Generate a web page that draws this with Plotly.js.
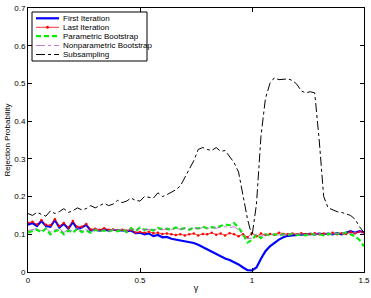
<!DOCTYPE html>
<html><head><meta charset="utf-8">
<script src="https://cdn.plot.ly/plotly-3.0.1.min.js"></script>
<style>html,body{margin:0;padding:0;background:#fff}#c{width:371px;height:298px}</style>
</head><body><div id="c"></div>
<script>
const gamma = [0,0.02,0.04,0.06,0.08,0.10,0.12,0.14,0.16,0.18,0.20,0.22,0.24,0.26,0.28,0.30,0.32,0.34,0.36,0.38,0.40,0.42,0.44,0.46,0.48,0.50,0.52,0.54,0.56,0.58,0.60,0.62,0.64,0.66,0.68,0.70,0.72,0.74,0.76,0.78,0.80,0.82,0.84,0.86,0.88,0.90,0.92,0.94,0.96,0.98,1.00,1.02,1.04,1.06,1.08,1.10,1.12,1.14,1.16,1.18,1.20,1.22,1.24,1.26,1.28,1.30,1.32,1.34,1.36,1.38,1.40,1.42,1.44,1.46,1.48,1.50];
const firstIteration = [0.125,0.13,0.122,0.135,0.122,0.12,0.138,0.118,0.128,0.115,0.132,0.115,0.118,0.125,0.11,0.112,0.11,0.113,0.11,0.112,0.11,0.111,0.108,0.11,0.103,0.104,0.1,0.102,0.095,0.098,0.092,0.093,0.088,0.086,0.085,0.082,0.08,0.077,0.072,0.066,0.06,0.054,0.046,0.04,0.036,0.032,0.027,0.02,0.012,0.005,0.004,0.012,0.035,0.055,0.068,0.078,0.086,0.092,0.096,0.097,0.098,0.1,0.099,0.101,0.1,0.102,0.1,0.102,0.1,0.103,0.1,0.104,0.108,0.104,0.108,0.105];
const lastIteration = [0.13,0.133,0.126,0.138,0.125,0.124,0.14,0.122,0.13,0.118,0.135,0.12,0.12,0.127,0.113,0.115,0.112,0.116,0.112,0.113,0.11,0.112,0.11,0.112,0.105,0.106,0.104,0.107,0.103,0.104,0.101,0.102,0.1,0.098,0.1,0.097,0.1,0.102,0.097,0.101,0.1,0.104,0.099,0.102,0.097,0.103,0.1,0.095,0.1,0.092,0.103,0.095,0.102,0.098,0.101,0.099,0.104,0.101,0.1,0.102,0.1,0.103,0.1,0.101,0.103,0.1,0.102,0.1,0.104,0.1,0.103,0.101,0.106,0.103,0.107,0.105];
const parametricBootstrap = [0.105,0.108,0.112,0.105,0.115,0.1,0.108,0.112,0.1,0.11,0.104,0.115,0.106,0.11,0.104,0.112,0.108,0.11,0.107,0.112,0.108,0.114,0.106,0.116,0.108,0.118,0.112,0.114,0.11,0.117,0.113,0.115,0.112,0.118,0.114,0.116,0.112,0.118,0.115,0.12,0.116,0.119,0.117,0.122,0.126,0.124,0.13,0.118,0.1,0.078,0.085,0.1,0.09,0.1,0.097,0.1,0.097,0.1,0.098,0.101,0.098,0.1,0.097,0.102,0.099,0.1,0.097,0.101,0.1,0.102,0.1,0.105,0.1,0.095,0.085,0.068];
const nonparametricBootstrap = [0.11,0.112,0.115,0.11,0.118,0.106,0.112,0.115,0.105,0.113,0.108,0.117,0.11,0.112,0.107,0.113,0.11,0.112,0.109,0.113,0.11,0.113,0.108,0.114,0.11,0.115,0.112,0.113,0.111,0.115,0.112,0.114,0.112,0.116,0.113,0.115,0.113,0.117,0.115,0.118,0.116,0.118,0.116,0.119,0.12,0.118,0.12,0.112,0.1,0.088,0.09,0.1,0.095,0.1,0.098,0.1,0.098,0.1,0.099,0.101,0.1,0.101,0.099,0.102,0.1,0.101,0.099,0.102,0.1,0.102,0.101,0.105,0.102,0.104,0.106,0.1];
const subsampling = [0.155,0.15,0.158,0.152,0.148,0.162,0.155,0.16,0.168,0.158,0.162,0.17,0.165,0.168,0.176,0.17,0.175,0.182,0.176,0.18,0.19,0.184,0.188,0.196,0.19,0.188,0.2,0.198,0.196,0.21,0.2,0.205,0.212,0.218,0.228,0.25,0.27,0.295,0.325,0.33,0.325,0.322,0.33,0.32,0.322,0.305,0.29,0.265,0.2,0.14,0.095,0.18,0.36,0.46,0.5,0.515,0.51,0.512,0.512,0.508,0.498,0.48,0.475,0.478,0.475,0.35,0.2,0.17,0.165,0.16,0.158,0.155,0.15,0.14,0.12,0.105];
const seriesNames = ["First Iteration","Last Iteration","Parametric Bootstrap","Nonparametric Bootstrap","Subsampling"];
const xTicks = [0,0.5,1,1.5];
const xTickText = ["0","0.5","1","1.5"];
const yTicks = [0,0.1,0.2,0.3,0.4,0.5,0.6,0.7];
const yTickText = ["0","0.1","0.2","0.3","0.4","0.5","0.6","0.7"];

const styles = [
  {line:{color:'#0000ff',width:2.2}},
  {line:{color:'#ff0000',width:0.8},marker:{color:'#ff0000',size:2.5}},
  {line:{color:'#00ee00',width:2.2,dash:'5px,3px'}},
  {line:{color:'#bb55cc',width:0.8,dash:'dashdot'}},
  {line:{color:'#000000',width:1,dash:'dashdot'}}
];
const ys = [firstIteration,lastIteration,parametricBootstrap,nonparametricBootstrap,subsampling];
const traces = ys.map((y,i)=>Object.assign({x:gamma,y:y,name:seriesNames[i],mode:styles[i].marker?'lines+markers':'lines',showlegend:false},styles[i]));

// manual legend (pixel geometry converted to paper coords)
const L=28,T=8,W=336,H=264;
const px=v=>(v-L)/W, py=v=>1-(v-T)/H;
const shapes=[{type:'rect',xref:'paper',yref:'paper',x0:px(32),x1:px(147),y0:py(12),y1:py(61),line:{color:'#000',width:1},fillcolor:'#fff',layer:'above'}];
const annotations=[];
const rowY=[18.3,27.3,36.2,45.5,54.5];
seriesNames.forEach((n,i)=>{
  const st=styles[i];
  shapes.push({type:'line',xref:'paper',yref:'paper',x0:px(36),x1:px(59),y0:py(rowY[i]),y1:py(rowY[i]),line:Object.assign({},st.line),layer:'above'});
  if(st.marker){shapes.push({type:'circle',xref:'paper',yref:'paper',x0:px(46.3),x1:px(48.7),y0:py(rowY[i]-1.2),y1:py(rowY[i]+1.2),line:{color:'#ff0000',width:0.5},fillcolor:'#ff0000',layer:'above'});}
  annotations.push({xref:'paper',yref:'paper',x:px(61),y:py(rowY[i]),xanchor:'left',yanchor:'middle',text:n,showarrow:false,font:{size:8,color:'#000'}});
});

const axisCommon = {showline:true,linecolor:'#000',linewidth:1,mirror:'ticks',ticks:'inside',ticklen:4,tickcolor:'#000',showgrid:false,zeroline:false,tickfont:{family:'Liberation Sans, Arial, sans-serif',size:8,color:'#000'}};
const layout = {
  width:371,height:298,
  margin:{l:L,r:7,t:T,b:26},
  paper_bgcolor:'#fff',plot_bgcolor:'#fff',
  font:{family:'Liberation Sans, Arial, sans-serif',size:8,color:'#000'},
  xaxis:Object.assign({},axisCommon,{range:[0,1.5],tickvals:xTicks,ticktext:xTickText,title:{text:'γ',font:{size:9},standoff:1}}),
  yaxis:Object.assign({},axisCommon,{range:[0,0.7],tickvals:yTicks,ticktext:yTickText,title:{text:'Rejection Probability',font:{size:8},standoff:2}}),
  showlegend:false,
  shapes:shapes,annotations:annotations
};
Plotly.newPlot('c',traces,layout,{displayModeBar:false,staticPlot:true});
</script>
</body></html>
